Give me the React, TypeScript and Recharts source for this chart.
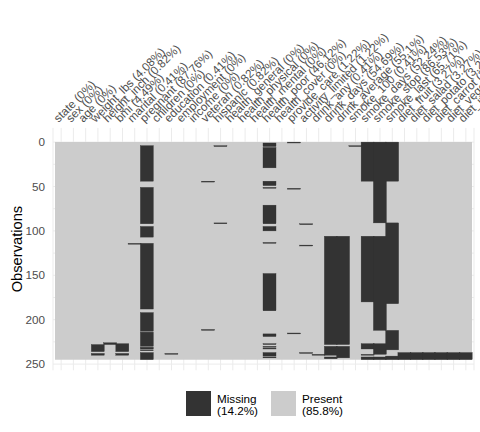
import React from 'react';
import { BarChart, Bar, XAxis, YAxis, CartesianGrid, ReferenceArea, Legend } from 'recharts';

const N_ROWS = 245;

const variables = [
  'state', 'sex', 'age', 'weight_lbs', 'height_inch', 'bmi', 'marital', 'pregnant',
  'children', 'education', 'employment', 'income', 'veteran', 'hispanic',
  'health_general', 'health_physical', 'health_mental', 'health_poor', 'health_cover',
  'provide_care', 'activity_limited', 'drink_any', 'drink_days', 'drink_average',
  'smoke_100', 'smoke_days', 'smoke_stop', 'smoke_last', 'diet_fruit', 'diet_salad',
  'diet_potato', 'diet_carrot', 'diet_vegetable', 'diet_juice',
];

// missing rows per variable, [first, last] (1-based, inclusive), same order as variables
const missingRows: [number, number][][] = [
  [], // state
  [], // sex
  [], // age
  [[229, 236], [239, 240]], // weight_lbs
  [[227, 228]], // height_inch
  [[228, 236], [239, 240]], // bmi
  [[115, 115]], // marital
  [[5, 44], [52, 92], [96, 107], [115, 188], [193, 213], [215, 230], [232, 233], [235, 235], [238, 245]], // pregnant
  [], // children
  [[239, 239]], // education
  [], // employment
  [], // income
  [[45, 45], [212, 212]], // veteran
  [[5, 5], [92, 92]], // hispanic
  [], // health_general
  [], // health_physical
  [], // health_mental
  [[2, 5], [7, 29], [45, 49], [52, 52], [72, 92], [96, 100], [114, 114], [149, 190], [217, 219],
    [228, 228], [231, 231], [233, 233], [238, 241], [243, 243]], // health_poor
  [], // health_cover
  [[1, 1], [53, 53], [216, 216]], // provide_care
  [[93, 93], [117, 117], [238, 238]], // activity_limited
  [[240, 240]], // drink_any
  [[107, 228], [231, 240], [243, 244]], // drink_days
  [[107, 228], [231, 243]], // drink_average
  [[5, 5]], // smoke_100
  [[1, 44], [107, 180], [228, 233], [240, 240], [243, 245]], // smoke_days
  [[1, 91], [107, 212], [228, 239], [243, 245]], // smoke_stop
  [[1, 44], [92, 182], [213, 234], [242, 245]], // smoke_last
  [[238, 245]], // diet_fruit
  [[238, 245]], // diet_salad
  [[238, 245]], // diet_potato
  [[238, 245]], // diet_carrot
  [[238, 245]], // diet_vegetable
  [[238, 245]], // diet_juice
];

const yTicks = [0, 50, 100, 150, 200, 250];
const yGrid = [0, 25, 50, 75, 100, 125, 150, 175, 200, 225, 250];

const MISSING = '#333333';
const PRESENT = '#CCCCCC';
const FONT = '"Liberation Sans", Arial, sans-serif';

const fmt = (v: number, d: number) => String(Number(v.toFixed(d)));

const missCount = missingRows.map(runs => runs.reduce((s, [a, b]) => s + b - a + 1, 0));
const totalMissPct = (missCount.reduce((s, c) => s + c, 0) / (N_ROWS * variables.length)) * 100;

// alternate present / missing run lengths, stacked top-down
const nSeg = 2 * Math.max(...missingRows.map(r => r.length)) + 1;
const data = variables.map((name, i) => {
  const row: Record<string, any> = { name, label: `${name} (${fmt((missCount[i] / N_ROWS) * 100, 2)}%)` };
  let cursor = 0;
  let k = 0;
  missingRows[i].forEach(([a, b]) => {
    row[`s${k++}`] = a - 1 - cursor;
    row[`s${k++}`] = b - a + 1;
    cursor = b;
  });
  row[`s${k++}`] = N_ROWS - cursor;
  for (; k < nSeg; k++) row[`s${k}`] = 0;
  return row;
});
const labelOf: Record<string, string> = Object.fromEntries(data.map(d => [d.name, d.label]));

// bars come out a bit narrower than the band, so widen missing tiles slightly to close seams
const MissingTile = (props: any) => {
  const x = Number(props.x), y = Number(props.y);
  const w = Number(props.width), h = Number(props.height);
  if (!h || !isFinite(h)) return null;
  const top = h < 0 ? y + h : y;
  return (
    <rect x={x - 0.5} y={top} width={Math.abs(w) + 1} height={Math.abs(h)}
      fill={MISSING} stroke={MISSING} strokeWidth={0.35} />
  );
};

const XTick = (props: any) => {
  const { x, y, payload } = props;
  const tx = x - 2.5;
  const ty = y - 3;
  return (
    <text x={tx} y={ty} transform={`rotate(-45 ${tx} ${ty})`} textAnchor="start"
      fill="#4D4D4D" fontSize={11.7} fontFamily={FONT}>
      {labelOf[payload.value]}
    </text>
  );
};

const YTitle = (props: any) => {
  const { viewBox } = props;
  const cy = viewBox.y + viewBox.height / 2;
  return (
    <text x={22} y={cy} transform={`rotate(-90 22 ${cy})`} textAnchor="middle"
      fill="#000" fontSize={14.7} fontFamily={FONT}>
      Observations
    </text>
  );
};

const legendItems = [
  { name: 'Missing', color: MISSING, pct: totalMissPct },
  { name: 'Present', color: PRESENT, pct: 100 - totalMissPct },
];

const LegendBox = () => (
  <div style={{ position: 'relative', width: 170, height: 28, fontFamily: FONT, fontSize: 11.7, color: '#000' }}>
    {legendItems.map((it, i) => (
      <React.Fragment key={it.name}>
        <div style={{ position: 'absolute', left: i * 85, top: 1, width: 25, height: 25, background: it.color }} />
        <div style={{ position: 'absolute', left: i * 85 + 31, top: 3, lineHeight: '11.5px', whiteSpace: 'nowrap' }}>
          {it.name}<br />({fmt(it.pct, 1)}%)
        </div>
      </React.Fragment>
    ))}
  </div>
);

export default function App() {
  return (
    <div style={{ position: 'absolute', left: 0, top: 0, width: 480, height: 432, background: '#fff' }}>
      <BarChart width={480} height={432} data={data}
        margin={{ top: 107.9, right: 6, bottom: 33.7, left: 28 }}
        barCategoryGap={0} barGap={0}>
        <CartesianGrid stroke="#EBEBEB" strokeWidth={1} horizontalValues={yGrid} />
        <XAxis dataKey="name" orientation="top" height={20} interval={0}
          axisLine={false} tickLine={false} tickSize={0} tickMargin={2}
          padding={{ left: 2, right: 2 }} tick={<XTick />} />
        <YAxis type="number" domain={[-16, 257]} reversed ticks={yTicks} interval={0}
          allowDataOverflow width={25} axisLine={false} tickLine={false}
          tick={{ fill: '#4D4D4D', fontSize: 11.7, fontFamily: FONT }}
          label={<YTitle />} />
        <ReferenceArea y1={0} y2={N_ROWS} fill={PRESENT} fillOpacity={1} stroke="none" ifOverflow="visible" />
        {Array.from({ length: nSeg }, (_, k) => (
          k % 2
            ? <Bar key={k} dataKey={`s${k}`} stackId="m" isAnimationActive={false} fill={MISSING} shape={MissingTile} />
            : <Bar key={k} dataKey={`s${k}`} stackId="m" isAnimationActive={false} fill="transparent" />
        ))}
        <Legend content={<LegendBox />}
          wrapperStyle={{ left: 186, top: 390, right: 'auto', bottom: 'auto', width: 170, height: 28 }} />
      </BarChart>
    </div>
  );
}
